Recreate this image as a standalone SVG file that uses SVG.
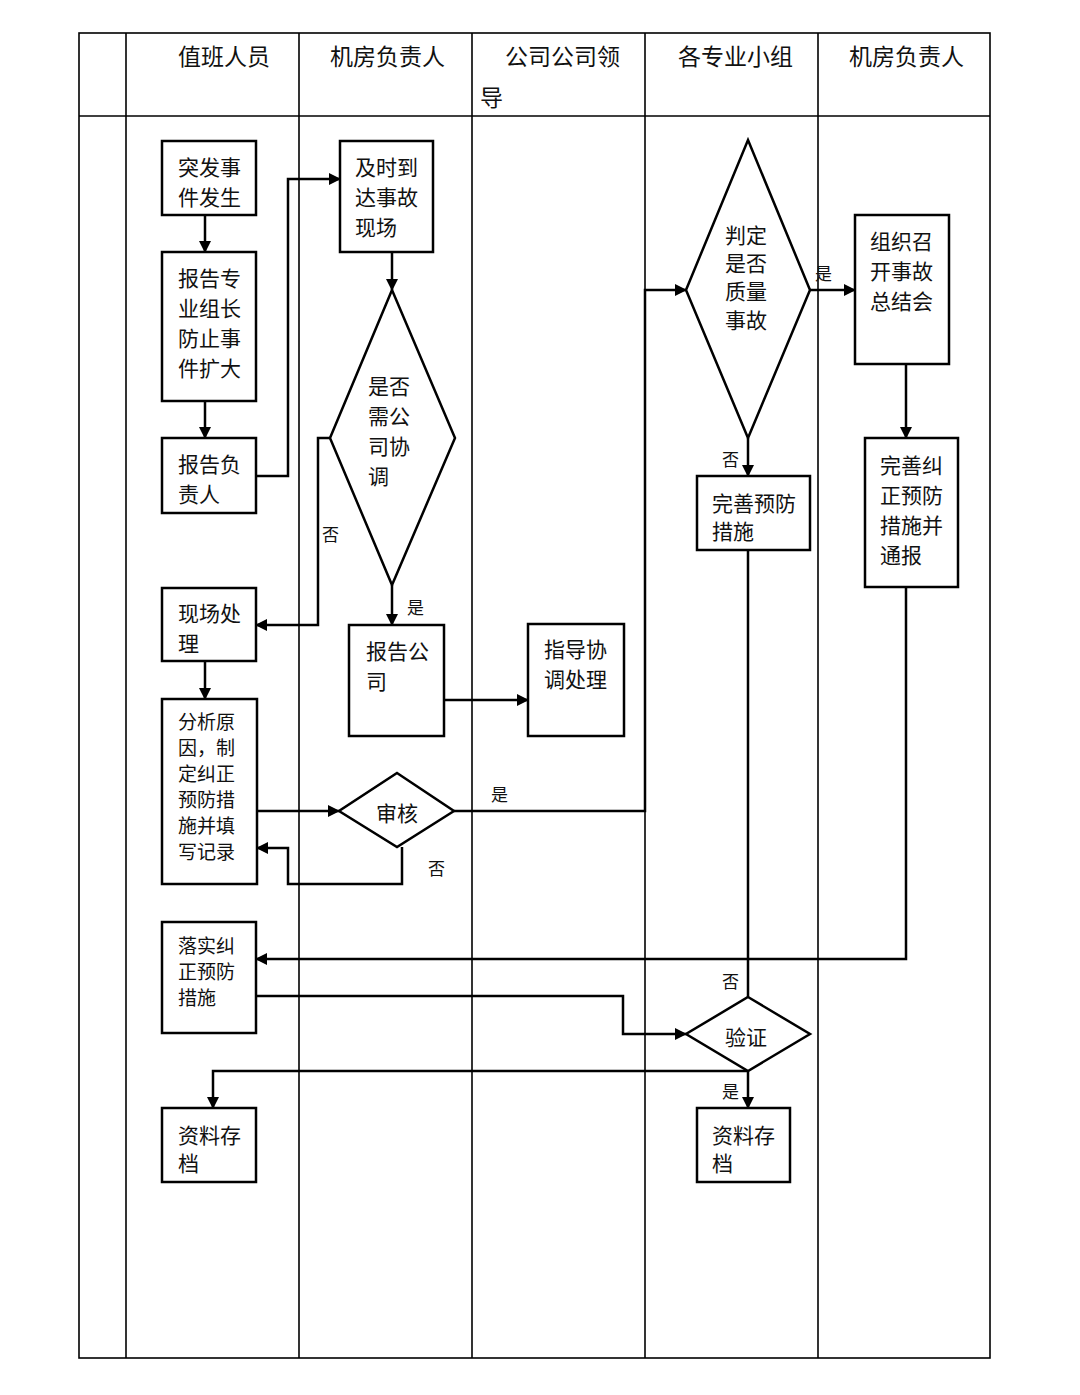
<svg xmlns="http://www.w3.org/2000/svg" width="1080" height="1395" viewBox="0 0 1080 1395">
<defs>
<marker id="ah" markerWidth="12" markerHeight="12" refX="11" refY="6" orient="auto" markerUnits="userSpaceOnUse" viewBox="0 0 12 12">
<path d="M0,0 L12,6 L0,12 z" fill="#000"/>
</marker>
<style>
.grid{stroke:#000;stroke-width:1.6;fill:none}
.box{fill:#fff;stroke:#000;stroke-width:2.5}
.c{fill:none;stroke:#000;stroke-width:2.5}
.t{font-family:"Noto Sans CJK SC","Noto Sans",sans-serif;font-size:21px;fill:#111;dominant-baseline:central}
.s{font-size:19px}
.h{font-family:"Noto Sans CJK SC","Noto Sans",sans-serif;font-size:23px;fill:#111;dominant-baseline:central}
.l{font-family:"Noto Sans CJK SC","Noto Sans",sans-serif;font-size:17px;fill:#111;dominant-baseline:central}
</style>
</defs>
<rect width="1080" height="1395" fill="#fff"/>
<g id="table">
<rect class="grid" x="79" y="33" width="911" height="1325"/>
<line class="grid" x1="79" y1="116" x2="990" y2="116"/>
<line class="grid" x1="126" y1="33" x2="126" y2="1358"/>
<line class="grid" x1="299" y1="33" x2="299" y2="1358"/>
<line class="grid" x1="472" y1="33" x2="472" y2="1358"/>
<line class="grid" x1="645" y1="33" x2="645" y2="1358"/>
<line class="grid" x1="818" y1="33" x2="818" y2="1358"/>
<text class="h" x="178" y="55">值班人员</text>
<text class="h" x="330" y="55">机房负责人</text>
<text class="h" x="505" y="55">公司公司领</text>
<text class="h" x="480" y="96">导</text>
<text class="h" x="678" y="55">各专业小组</text>
<text class="h" x="849" y="55">机房负责人</text>
</g>
<g id="connectors">
<polyline class="c" points="205,215 205,252" marker-end="url(#ah)"/>
<polyline class="c" points="205,401 205,438" marker-end="url(#ah)"/>
<polyline class="c" points="256,476 288,476 288,179 340,179" marker-end="url(#ah)"/>
<polyline class="c" points="392,252 392,290" marker-end="url(#ah)"/>
<polyline class="c" points="392,585 392,625" marker-end="url(#ah)"/>
<polyline class="c" points="330,438 318,438 318,625 256,625" marker-end="url(#ah)"/>
<polyline class="c" points="205,661 205,699" marker-end="url(#ah)"/>
<polyline class="c" points="444,700 528,700" marker-end="url(#ah)"/>
<polyline class="c" points="257,811 339,811" marker-end="url(#ah)"/>
<polyline class="c" points="402,847 402,884 288,884 288,848 257,848" marker-end="url(#ah)"/>
<polyline class="c" points="454,811 645,811 645,290 686,290" marker-end="url(#ah)"/>
<polyline class="c" points="810,290 855,290" marker-end="url(#ah)"/>
<polyline class="c" points="748,438 748,476" marker-end="url(#ah)"/>
<polyline class="c" points="906,364 906,438" marker-end="url(#ah)"/>
<polyline class="c" points="906,587 906,959 256,959" marker-end="url(#ah)"/>
<polyline class="c" points="748,550 748,997"/>
<polyline class="c" points="256,996 623,996 623,1034 686,1034" marker-end="url(#ah)"/>
<polyline class="c" points="748,1071 748,1108" marker-end="url(#ah)"/>
<polyline class="c" points="748,1071 213,1071 213,1108" marker-end="url(#ah)"/>
<text class="l" x="407" y="606">是</text>
<text class="l" x="322" y="533">否</text>
<text class="l" x="428" y="867">否</text>
<text class="l" x="491" y="793">是</text>
<text class="l" x="815" y="272">是</text>
<text class="l" x="722" y="458">否</text>
<text class="l" x="722" y="980">否</text>
<text class="l" x="722" y="1090">是</text>
</g>
<g id="n1"><rect class="box" x="162" y="141" width="94" height="74"/><text class="t" x="178" y="166">突发事</text><text class="t" x="178" y="196">件发生</text></g>
<g id="n2"><rect class="box" x="162" y="252" width="94" height="149"/><text class="t" x="178" y="277">报告专</text><text class="t" x="178" y="307">业组长</text><text class="t" x="178" y="337">防止事</text><text class="t" x="178" y="367">件扩大</text></g>
<g id="n3"><rect class="box" x="162" y="438" width="94" height="75"/><text class="t" x="178" y="463">报告负</text><text class="t" x="178" y="493">责人</text></g>
<g id="n4"><rect class="box" x="340" y="141" width="93" height="111"/><text class="t" x="355" y="166">及时到</text><text class="t" x="355" y="196">达事故</text><text class="t" x="355" y="226">现场</text></g>
<g id="d1"><polygon class="box" points="392,290 455,438 392,585 330,438"/><text class="t" x="368" y="385">是否</text><text class="t" x="368" y="415">需公</text><text class="t" x="368" y="445">司协</text><text class="t" x="368" y="475">调</text></g>
<g id="n5"><rect class="box" x="162" y="588" width="94" height="73"/><text class="t" x="178" y="612">现场处</text><text class="t" x="178" y="642">理</text></g>
<g id="n6"><rect class="box" x="162" y="699" width="95" height="185"/><text class="t s" x="178" y="720">分析原</text><text class="t s" x="178" y="746">因，制</text><text class="t s" x="178" y="772">定纠正</text><text class="t s" x="178" y="798">预防措</text><text class="t s" x="178" y="824">施并填</text><text class="t s" x="178" y="850">写记录</text></g>
<g id="n7"><rect class="box" x="349" y="625" width="95" height="111"/><text class="t" x="366" y="650">报告公</text><text class="t" x="366" y="680">司</text></g>
<g id="n8"><rect class="box" x="528" y="624" width="96" height="112"/><text class="t" x="544" y="648">指导协</text><text class="t" x="544" y="678">调处理</text></g>
<g id="d2"><polygon class="box" points="397,773 454,811 397,847 339,811"/><text class="t" x="376" y="812">审核</text></g>
<g id="d3"><polygon class="box" points="748,140 810,290 748,438 686,290"/><text class="t" x="725" y="234">判定</text><text class="t" x="725" y="262">是否</text><text class="t" x="725" y="290">质量</text><text class="t" x="725" y="319">事故</text></g>
<g id="n9"><rect class="box" x="855" y="215" width="94" height="149"/><text class="t" x="870" y="240">组织召</text><text class="t" x="870" y="270">开事故</text><text class="t" x="870" y="300">总结会</text></g>
<g id="n10"><rect class="box" x="697" y="476" width="113" height="74"/><text class="t" x="712" y="502">完善预防</text><text class="t" x="712" y="530">措施</text></g>
<g id="n11"><rect class="box" x="865" y="438" width="93" height="149"/><text class="t" x="880" y="464">完善纠</text><text class="t" x="880" y="494">正预防</text><text class="t" x="880" y="524">措施并</text><text class="t" x="880" y="554">通报</text></g>
<g id="n12"><rect class="box" x="162" y="922" width="94" height="111"/><text class="t s" x="178" y="944">落实纠</text><text class="t s" x="178" y="970">正预防</text><text class="t s" x="178" y="996">措施</text></g>
<g id="d4"><polygon class="box" points="748,997 810,1034 748,1071 686,1034"/><text class="t" x="725" y="1036">验证</text></g>
<g id="n13"><rect class="box" x="162" y="1108" width="94" height="74"/><text class="t" x="178" y="1134">资料存</text><text class="t" x="178" y="1162">档</text></g>
<g id="n14"><rect class="box" x="697" y="1108" width="93" height="74"/><text class="t" x="712" y="1134">资料存</text><text class="t" x="712" y="1162">档</text></g>
</svg>
